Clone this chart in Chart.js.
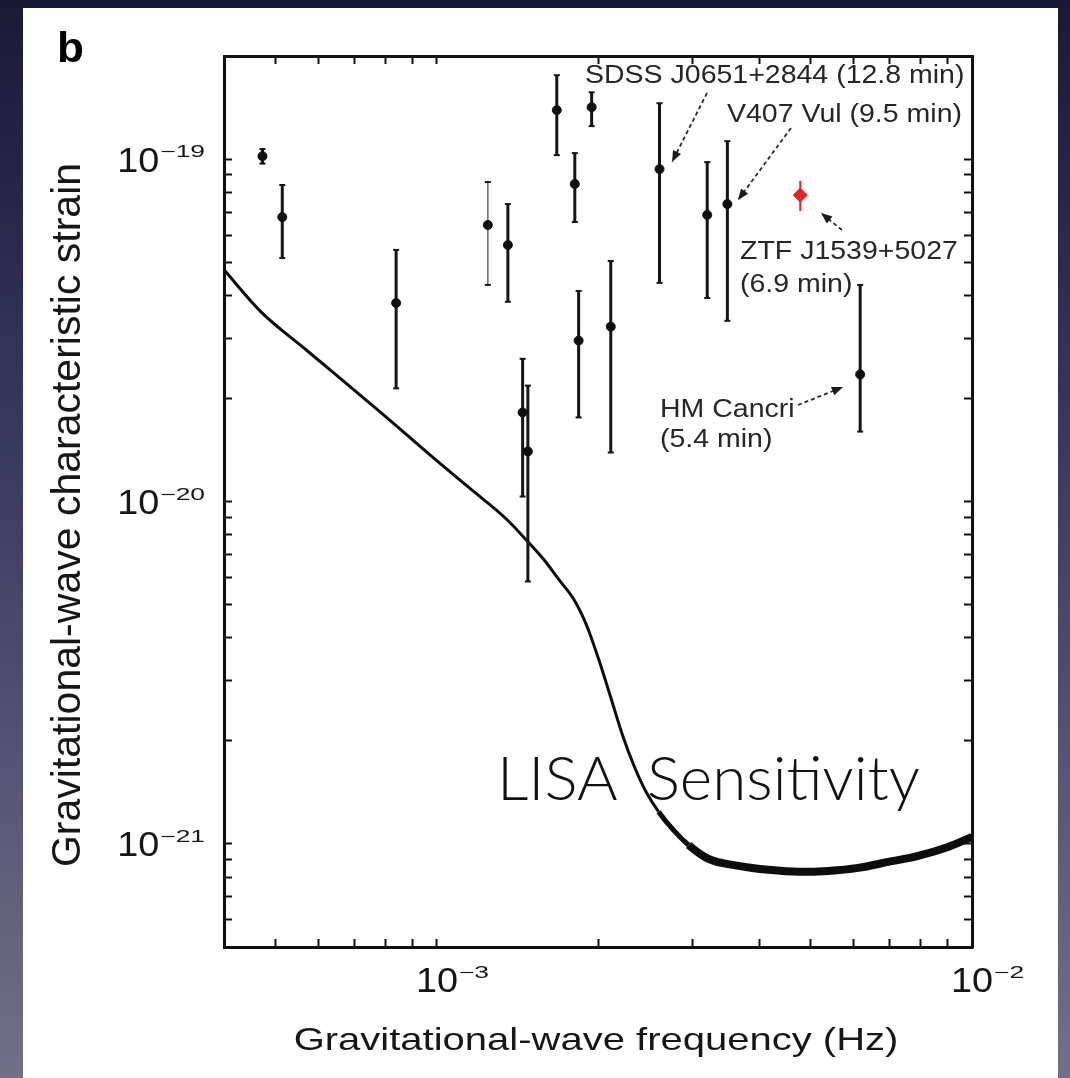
<!DOCTYPE html>
<html>
<head>
<meta charset="utf-8">
<script src="https://cdn.jsdelivr.net/npm/chart.js@4.4.1/dist/chart.umd.min.js"></script>
<style>
  html, body { margin: 0; padding: 0; background: #1c1b39; }
  #kutu { width: 1070px; height: 1078px; position: relative; }
</style>
</head>
<body>
<div id="kutu"><canvas id="grafik"></canvas></div>
<script>
// binaries (Hz, characteristic strain)
const binFreq   = [4.72e-4, 5.14e-4, 8.39e-4, 1.245e-3, 1.357e-3, 1.446e-3, 1.479e-3, 1.675e-3, 1.81e-3, 1.84e-3, 1.946e-3, 2.113e-3, 2.606e-3, 3.20e-3, 3.49e-3, 6.18e-3];
const binStrain = [1.02e-19, 6.77e-20, 3.80e-20, 6.42e-20, 5.61e-20, 1.82e-20, 1.40e-20, 1.39e-19, 8.46e-20, 2.95e-20, 1.418e-19, 3.24e-20, 9.35e-20, 6.87e-20, 7.39e-20, 2.35e-20];
const binLow    = [0.97e-19, 5.14e-20, 2.14e-20, 4.29e-20, 3.83e-20, 1.034e-20, 5.84e-21, 1.027e-19, 6.55e-20, 1.76e-20, 1.248e-19, 1.39e-20, 4.35e-20, 3.93e-20, 3.37e-20, 1.60e-20];
const binHigh   = [1.07e-19, 8.40e-20, 5.43e-20, 8.57e-20, 7.39e-20, 2.61e-20, 2.18e-20, 1.758e-19, 1.041e-19, 4.12e-20, 1.567e-19, 5.04e-20, 1.456e-19, 9.80e-20, 1.128e-19, 4.29e-20];

// ZTF J1539+5027
const ztfFreq   = [4.776e-3];
const ztfStrain = [7.85e-20];
const ztfLow    = [7.05e-20];
const ztfHigh   = [8.63e-20];

// LISA sensitivity curve
const lisaFreq   = [4.0e-4, 4.69e-4, 5.70e-4, 7.86e-4, 9.79e-4, 1.147e-3, 1.345e-3, 1.466e-3, 1.584e-3, 1.689e-3, 1.802e-3, 1.904e-3, 2.006e-3, 2.111e-3, 2.222e-3, 2.339e-3, 2.462e-3, 2.595e-3, 2.768e-3, 2.953e-3, 3.217e-3, 3.659e-3, 4.162e-3, 4.735e-3, 5.386e-3, 6.127e-3, 6.97e-3, 7.93e-3, 9.02e-3, 1.0e-2];
const lisaStrain = [4.75e-20, 3.58e-20, 2.77e-20, 1.817e-20, 1.353e-20, 1.099e-20, 8.92e-21, 7.75e-21, 6.77e-21, 5.92e-21, 5.18e-21, 4.35e-21, 3.46e-21, 2.69e-21, 2.08e-21, 1.68e-21, 1.415e-21, 1.242e-21, 1.097e-21, 9.93e-22, 9.04e-22, 8.63e-22, 8.40e-22, 8.29e-22, 8.34e-22, 8.51e-22, 8.86e-22, 9.23e-22, 9.80e-22, 1.048e-21];

// axis ticks and labels
const xTicks = [5e-4, 6e-4, 7e-4, 8e-4, 9e-4, 1e-3, 2e-3, 3e-3, 4e-3, 5e-3, 6e-3, 7e-3, 8e-3, 9e-3, 1e-2];
const yTicks = [6e-22, 7e-22, 8e-22, 9e-22, 1e-21, 2e-21, 3e-21, 4e-21, 5e-21, 6e-21, 7e-21, 8e-21, 9e-21,
                1e-20, 2e-20, 3e-20, 4e-20, 5e-20, 6e-20, 7e-20, 8e-20, 9e-20, 1e-19, 2e-19];
const xLabelValues = [1e-3, 1e-2];
const xLabelExps   = ['\u22123', '\u22122'];
const yLabelValues = [1e-21, 1e-20, 1e-19];
const yLabelExps   = ['\u221221', '\u221220', '\u221219'];

const FONT = '"Liberation Sans", Arial, Helvetica, sans-serif';

// error bars: low/high pairs separated by gaps
const cubuk = [];
binFreq.forEach((f, i) => cubuk.push({x: f, y: binLow[i]}, {x: f, y: binHigh[i]}, {x: f, y: null}));
const ztfCubuk = [];
ztfFreq.forEach((f, i) => ztfCubuk.push({x: f, y: ztfLow[i]}, {x: f, y: ztfHigh[i]}, {x: f, y: null}));

function yaz(c, t, x, y, boyut, o = {}) {
  c.save();
  c.font = (o.weight || 'normal') + ' ' + boyut + 'px ' + (o.family || FONT);
  c.fillStyle = o.color || '#161616';
  c.textAlign = o.align || 'left';
  c.textBaseline = 'alphabetic';
  c.translate(x, y);
  if (o.rot) c.rotate(o.rot);
  c.scale(o.sx || 1, o.sy || 1);
  c.fillText(t, 0, 0);
  c.restore();
}

function genislik(c, t, boyut, sx) {
  c.save();
  c.font = 'normal ' + boyut + 'px ' + FONT;
  const w = c.measureText(t).width * (sx || 1);
  c.restore();
  return w;
}

function ok(c, x1, y1, x2, y2) {
  c.save();
  c.strokeStyle = '#2a2a2a';
  c.lineWidth = 1.8;
  c.setLineDash([4, 3]);
  c.beginPath(); c.moveTo(x1, y1); c.lineTo(x2, y2); c.stroke();
  c.setLineDash([]);
  const a = Math.atan2(y2 - y1, x2 - x1);
  c.fillStyle = '#1a1a1a';
  c.beginPath();
  c.moveTo(x2, y2);
  c.lineTo(x2 - 12 * Math.cos(a - 0.38), y2 - 12 * Math.sin(a - 0.38));
  c.lineTo(x2 - 12 * Math.cos(a + 0.38), y2 - 12 * Math.sin(a + 0.38));
  c.closePath(); c.fill();
  c.restore();
}

const arkaPlan = {
  id: 'arkaPlan',
  beforeDraw(chart) {
    const c = chart.ctx;
    const g = c.createLinearGradient(0, 0, 0, chart.height);
    g.addColorStop(0, '#1a1936');
    g.addColorStop(0.35, '#34335a');
    g.addColorStop(1, '#726f89');
    c.save();
    c.fillStyle = g;
    c.fillRect(0, 0, chart.width, chart.height);
    c.fillStyle = '#ffffff';
    c.fillRect(23, 8, 1035, chart.height - 8);
    c.restore();
  }
};

const yazilar = {
  id: 'yazilar',
  afterDraw(chart) {
    const c = chart.ctx;
    const sx = chart.scales.x, sy = chart.scales.y;

    // tick labels 10^n
    yLabelValues.forEach((v, i) => {
      const py = sy.getPixelForValue(v);
      const wSup = genislik(c, yLabelExps[i], 22, 1.2);
      yaz(c, yLabelExps[i], 205, py - 2, 22, {align: 'right', sx: 1.2, sy: 0.75});
      yaz(c, '10', 205 - wSup - 1, py + 12.5, 35, {align: 'right', sx: 1.08});
    });
    xLabelValues.forEach((v, i) => {
      const px = sx.getPixelForValue(v);
      const w10 = genislik(c, '10', 35, 1.08);
      yaz(c, '10', px, 992, 35, {align: 'center', sx: 1.08});
      yaz(c, xLabelExps[i], px + w10 / 2 + 1, 978, 22, {sx: 1.2, sy: 0.75});
    });

    // axis titles
    yaz(c, 'Gravitational-wave frequency (Hz)', 596, 1050, 40, {align: 'center', sy: 0.8});
    yaz(c, 'Gravitational-wave characteristic strain', 80, 515, 41, {align: 'center', rot: -Math.PI / 2});

    // panel letter
    yaz(c, 'b', 57, 62, 42, {weight: 'bold', sx: 1.05, color: '#000'});

    // source labels
    const ann = {sx: 1.14, color: '#262626'};
    yaz(c, 'SDSS J0651+2844 (12.8 min)', 585, 83, 25, ann);
    yaz(c, 'V407 Vul (9.5 min)', 727, 122, 25, ann);
    yaz(c, 'ZTF J1539+5027', 740, 259, 25, ann);
    yaz(c, '(6.9 min)', 740, 292, 25, ann);
    yaz(c, 'HM Cancri', 660, 417, 25, ann);
    yaz(c, '(5.4 min)', 660, 447, 25, ann);

    ok(c, 707, 93, 672, 162);
    ok(c, 791, 128, 738, 200);
    ok(c, 842, 230, 821, 213);
    ok(c, 798, 405, 843, 387);

    // curve label, the line runs between the two words
    const lisaYazi = {family: 'Lato, "Liberation Sans", sans-serif', weight: '300', color: '#111'};
    yaz(c, 'LISA', 497, 800, 62, lisaYazi);
    yaz(c, 'Sensitivity', 647, 800, 62, lisaYazi);
  }
};

const kenar = {display: true, color: '#111', width: 3};
const izgara = {drawOnChartArea: false, drawTicks: true, tickLength: -8, tickColor: '#111', tickWidth: 2};

new Chart(document.getElementById('grafik'), {
  type: 'scatter',
  data: {
    datasets: [
      {
        label: 'ZTF J1539+5027',
        data: ztfFreq.map((f, i) => ({x: f, y: ztfStrain[i]})),
        backgroundColor: '#e8202a',
        borderColor: '#e8202a',
        pointStyle: 'rectRot',
        pointRadius: 7,
        order: 1
      },
      {
        label: 'binaries',
        data: binFreq.map((f, i) => ({x: f, y: binStrain[i]})),
        backgroundColor: '#111',
        borderColor: '#111',
        pointRadius: 4.5,
        order: 2
      },
      {
        type: 'line',
        label: 'ztf hata',
        data: ztfCubuk,
        borderColor: '#e8202a',
        borderWidth: 2,
        pointRadius: 0,
        spanGaps: false,
        order: 3
      },
      {
        type: 'line',
        label: 'hata',
        data: cubuk,
        borderColor: '#151515',
        borderWidth: 3,
        pointStyle: 'line',
        pointRadius: ctx => (ctx.raw && ctx.raw.y != null) ? 3 : 0,
        pointBorderWidth: 2,
        pointBorderColor: '#151515',
        spanGaps: false,
        segment: {
          borderWidth: ctx => ctx.p0DataIndex === 9 ? 1.5 : 3,
          borderColor: ctx => ctx.p0DataIndex === 9 ? '#666' : '#151515'
        },
        order: 4
      },
      {
        type: 'line',
        label: 'LISA',
        data: lisaFreq.map((f, i) => ({x: f, y: lisaStrain[i]})),
        borderColor: '#0d0d0d',
        borderWidth: 3,
        pointRadius: 0,
        cubicInterpolationMode: 'monotone',
        segment: {
          borderWidth: ctx => ctx.p0.parsed.x >= 2.9e-3 ? 8 : (ctx.p0.parsed.x >= 2.5e-3 ? 5 : 3)
        },
        order: 5
      }
    ]
  },
  options: {
    responsive: true,
    maintainAspectRatio: false,
    animation: false,
    events: [],
    layout: {padding: 0},
    plugins: {legend: {display: false}, tooltip: {enabled: false}},
    scales: {
      x: {
        type: 'logarithmic', position: 'bottom', min: 4e-4, max: 1e-2,
        afterFit: s => { s.height = 131; },
        afterBuildTicks: s => { s.ticks = xTicks.map(v => ({value: v})); },
        ticks: {display: false, autoSkip: false},
        grid: izgara, border: kenar
      },
      x2: {
        type: 'logarithmic', position: 'top', min: 4e-4, max: 1e-2,
        afterFit: s => { s.height = 56; },
        afterBuildTicks: s => { s.ticks = xTicks.map(v => ({value: v})); },
        ticks: {display: false, autoSkip: false},
        grid: izgara, border: kenar
      },
      y: {
        type: 'logarithmic', position: 'left', min: 5e-22, max: 2e-19,
        afterFit: s => { s.width = 224; },
        afterBuildTicks: s => { s.ticks = yTicks.map(v => ({value: v})); },
        ticks: {display: false, autoSkip: false},
        grid: izgara, border: kenar
      },
      y2: {
        type: 'logarithmic', position: 'right', min: 5e-22, max: 2e-19,
        afterFit: s => { s.width = 98; },
        afterBuildTicks: s => { s.ticks = yTicks.map(v => ({value: v})); },
        ticks: {display: false, autoSkip: false},
        grid: izgara, border: kenar
      }
    }
  },
  plugins: [arkaPlan, yazilar]
});
</script>
</body>
</html>
